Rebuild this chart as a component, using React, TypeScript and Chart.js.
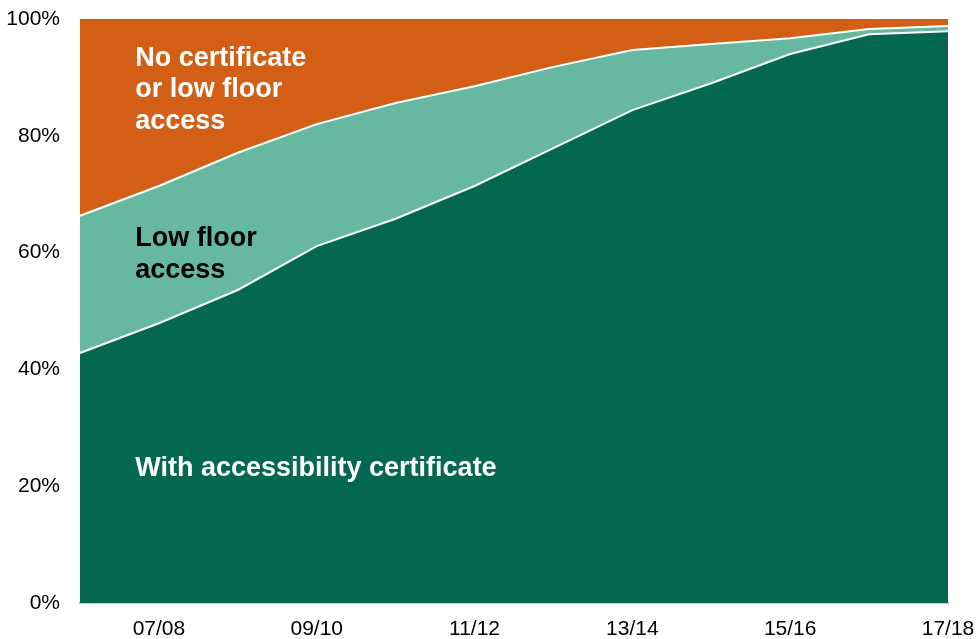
import React, { useEffect, useRef } from "react";
import { Chart, registerables } from "chart.js";

Chart.register(...registerables);

const categories = ["06/07", "07/08", "08/09", "09/10", "10/11", "11/12", "12/13", "13/14", "14/15", "15/16", "16/17", "17/18"];
const tickLabels = ["", "07/08", "", "09/10", "", "11/12", "", "13/14", "", "15/16", "", "17/18"];
// share of fleet (%)
const withCertificate = [42.8, 47.9, 53.6, 61.1, 65.8, 71.4, 77.9, 84.4, 89.0, 94.0, 97.4, 97.9];
const lowFloorCumulative = [66.3, 71.4, 77.1, 82.0, 85.6, 88.5, 91.8, 94.7, 95.7, 96.7, 98.3, 98.8];
const lowFloorOnly = lowFloorCumulative.map((v, i) => +(v - withCertificate[i]).toFixed(1));
const noCertificate = lowFloorCumulative.map((v) => +(100 - v).toFixed(1));
const yTicks = [0, 20, 40, 60, 80, 100];

const COLORS = { dark: "#03684F", light: "#66B8A1", orange: "#D35F17" };

const annotations = [
  { lines: ["No certificate", "or low floor", "access"], x: 0.7, y: 92.0, color: "#ffffff" },
  { lines: ["Low floor", "access"], x: 0.7, y: 61.1, color: "#000000" },
  { lines: ["With accessibility certificate"], x: 0.7, y: 21.7, color: "#ffffff" },
];

const labelPlugin = {
  id: "areaLabels",
  afterDatasetsDraw(chart: any) {
    const { ctx, scales } = chart;
    ctx.save();
    ctx.font = "bold 27px 'Liberation Sans', Arial, sans-serif";
    ctx.textAlign = "left";
    ctx.textBaseline = "alphabetic";
    for (const a of annotations) {
      const x = scales.x.getPixelForValue(a.x);
      const y0 = scales.y.getPixelForValue(a.y);
      ctx.fillStyle = a.color;
      a.lines.forEach((line, i) => ctx.fillText(line, x, y0 + i * 31.5));
    }
    ctx.restore();
  },
};

const zeroPad = (s: any) => {
  s.paddingTop = 0;
  s.paddingBottom = 0;
  s.paddingLeft = 0;
  s.paddingRight = 0;
};

export default function App() {
  const ref = useRef<HTMLCanvasElement>(null);
  useEffect(() => {
    document.body.style.margin = "0";
    const chart = new Chart(ref.current!, {
      type: "line",
      data: {
        labels: categories,
        datasets: [
          {
            label: "With accessibility certificate",
            data: withCertificate,
            backgroundColor: COLORS.dark,
            borderColor: "#ffffff",
            borderWidth: 2,
            fill: "origin",
            pointRadius: 0,
            tension: 0,
          },
          {
            label: "Low floor access",
            data: lowFloorOnly,
            backgroundColor: COLORS.light,
            borderColor: "#ffffff",
            borderWidth: 2,
            fill: "-1",
            pointRadius: 0,
            tension: 0,
          },
          {
            label: "No certificate or low floor access",
            data: noCertificate,
            backgroundColor: COLORS.orange,
            borderColor: COLORS.orange,
            borderWidth: 0,
            fill: "-1",
            pointRadius: 0,
            tension: 0,
          },
        ],
      },
      options: {
        animation: false,
        responsive: false,
        maintainAspectRatio: false,
        layout: { padding: { top: 19, right: 28, left: 0, bottom: 0 } },
        plugins: { legend: { display: false }, tooltip: { enabled: false } },
        scales: {
          x: {
            offset: false,
            grid: { display: false, drawTicks: false },
            border: { display: true, color: "#9a9a9a", width: 1.5 },
            ticks: {
              autoSkip: false,
              maxRotation: 0,
              padding: 14,
              color: "#000000",
              font: { family: "'Liberation Sans', Arial, sans-serif", size: 21 },
              callback: (_v: any, i: number) => tickLabels[i],
            },
            afterFit: (s: any) => { s.height = 36; zeroPad(s); },
          },
          y: {
            stacked: true,
            min: 0,
            max: 100,
            grid: { display: false, drawTicks: false },
            border: { display: true, color: "#c8c8c8", width: 1 },
            afterBuildTicks: (s: any) => { s.ticks = yTicks.map((v) => ({ value: v })); },
            ticks: {
              padding: 20,
              color: "#000000",
              font: { family: "'Liberation Sans', Arial, sans-serif", size: 21 },
              callback: (v: any) => v + "%",
            },
            afterFit: (s: any) => { s.width = 80; zeroPad(s); },
          },
        },
      },
      plugins: [labelPlugin],
    });
    return () => chart.destroy();
  }, []);
  return (
    <div style={{ width: 976, height: 639, background: "#ffffff" }}>
      <canvas ref={ref} width={976} height={639} style={{ display: "block" }} />
    </div>
  );
}
